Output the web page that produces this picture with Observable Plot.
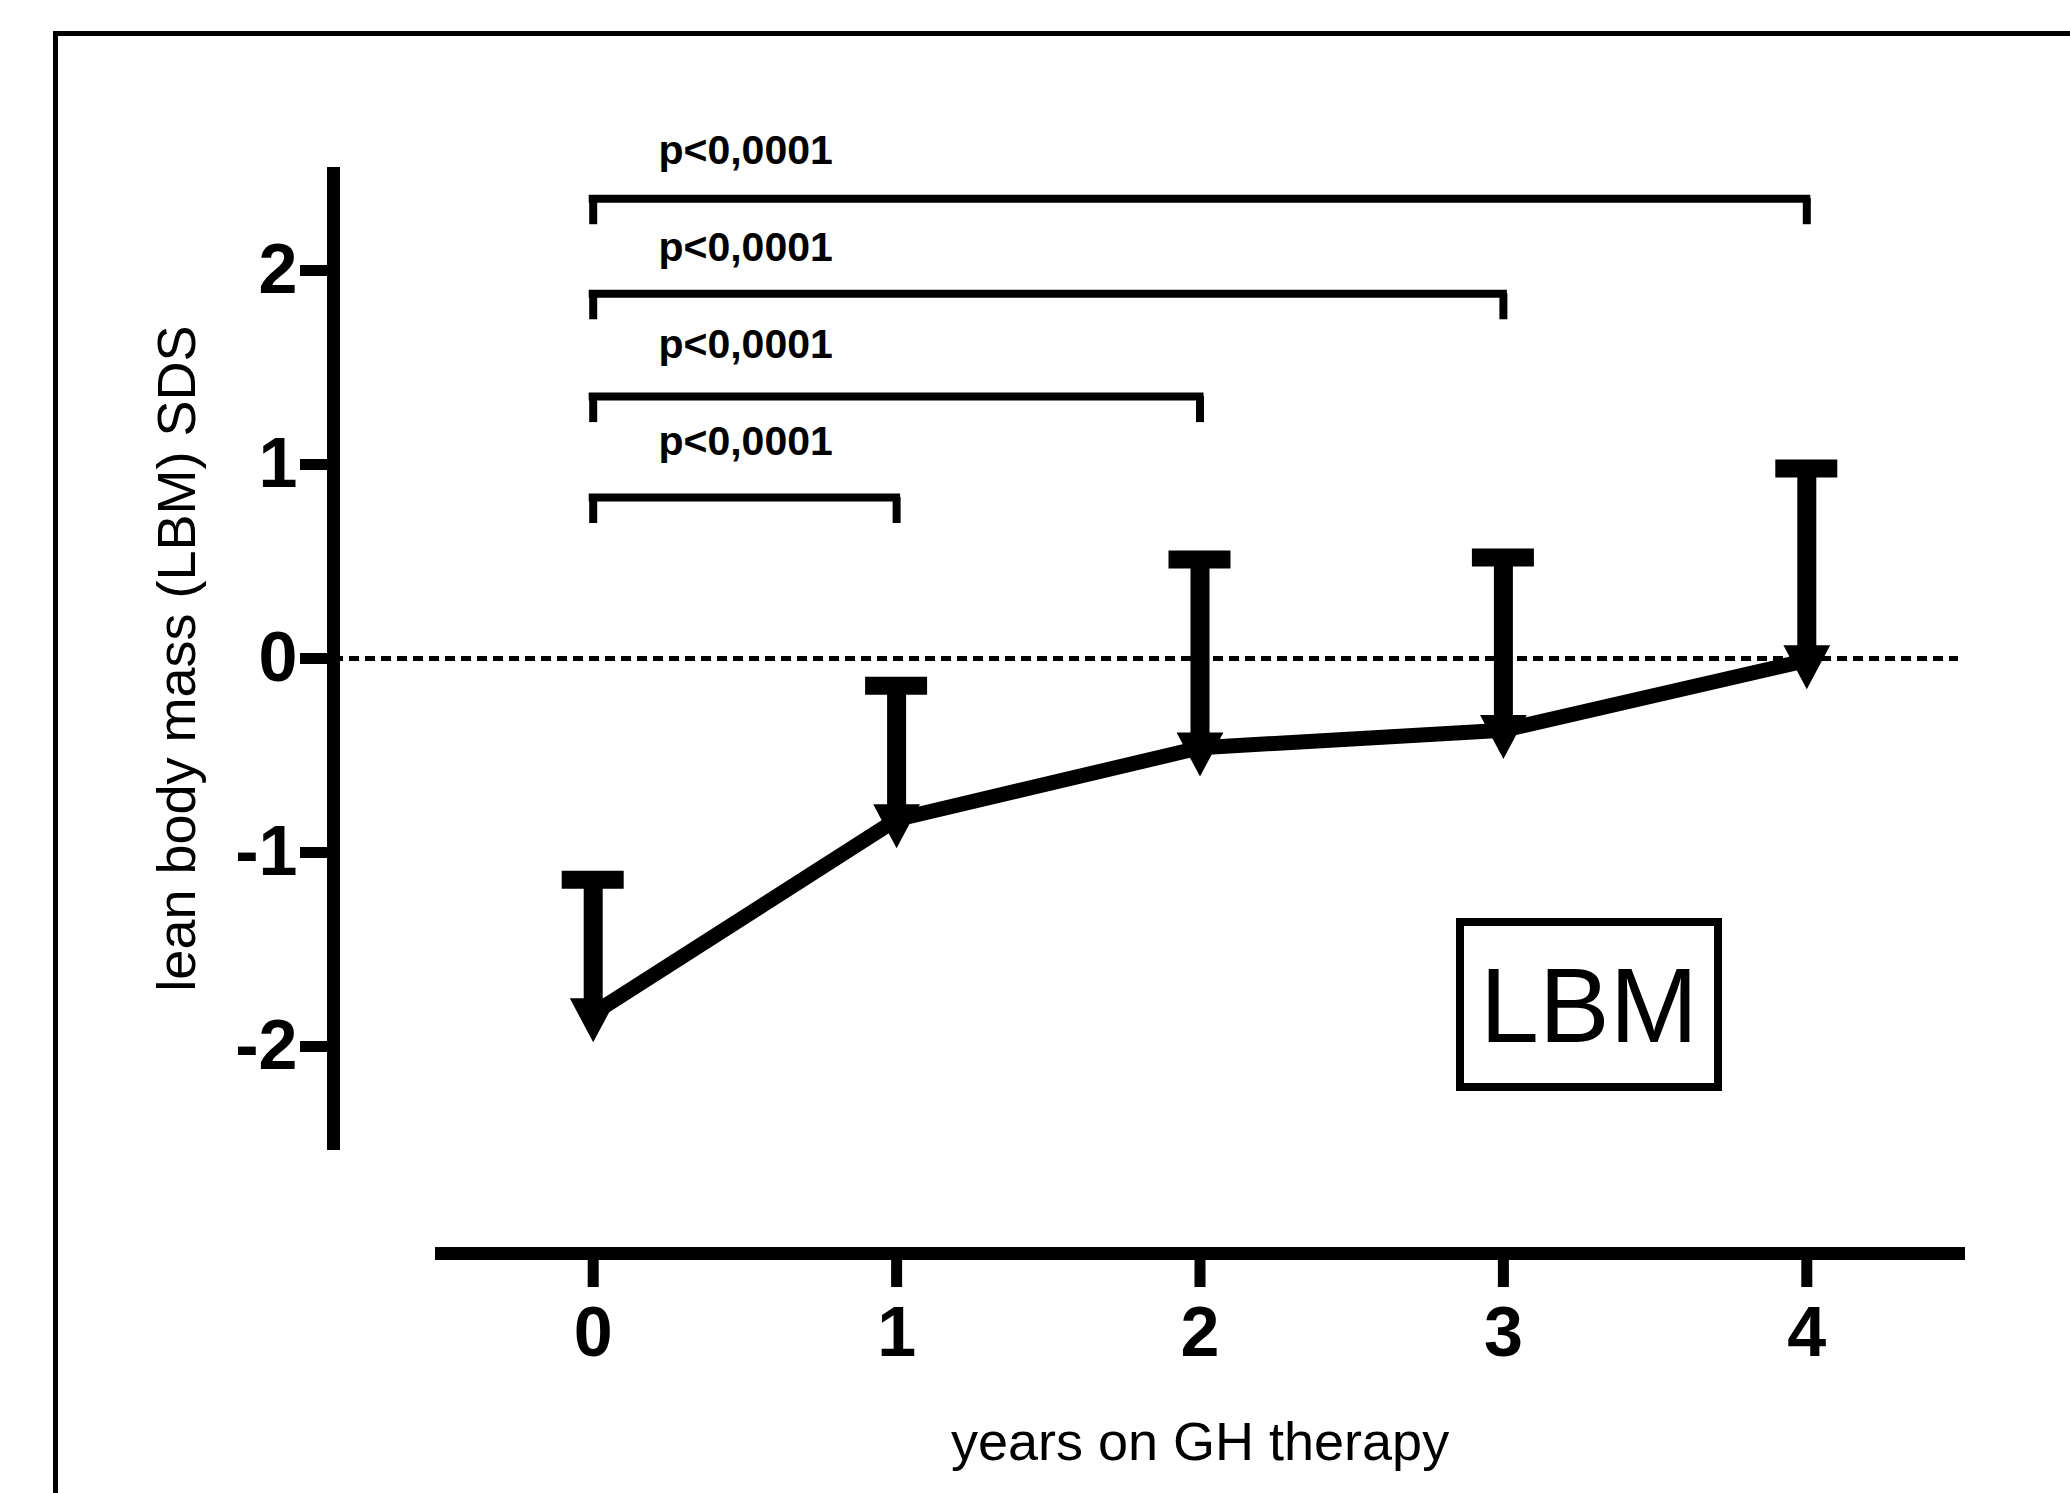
<!DOCTYPE html>
<html>
<head>
<meta charset="utf-8">
<script src="https://cdn.jsdelivr.net/npm/d3@7"></script>
<script src="https://cdn.jsdelivr.net/npm/@observablehq/plot@0.6"></script>
<style>
  html, body { margin: 0; padding: 0; background: #fff; overflow: hidden; }
  #wrap { position: relative; width: 2070px; height: 1493px; overflow: hidden; }
  #outer { position: absolute; left: 53px; top: 31px; width: 3000px; height: 3000px; border: 5px solid #000; }
  #chart { position: absolute; left: 0; top: 0; }
  #lbm { position: absolute; left: 1456px; top: 918px; width: 266px; height: 173px; box-sizing: border-box;
         border: 8px solid #000; font: 106px "Liberation Sans", Arial, sans-serif; color: #000;
         display: flex; align-items: center; justify-content: center; line-height: 1; }
</style>
</head>
<body>
<div id="wrap">
  <div id="outer"></div>
  <div id="chart"></div>
  <div id="lbm"></div>
</div>
<script>
// ---- data ----
const years = [0, 1, 2, 3, 4];
const meanSDS = [-1.83, -0.83, -0.46, -0.37, -0.01];
const upperSDS = [-1.14, -0.14, 0.51, 0.52, 0.98];
const xTicks = [0, 1, 2, 3, 4];
const yTicks = [-2, -1, 0, 1, 2];
const bracketFrom = [0, 0, 0, 0];
const bracketTo = [4, 3, 2, 1];
const bracketY = [2.37, 1.88, 1.35, 0.83];
const pLabelX = [0.215, 0.215, 0.215, 0.215];
const pLabelY = [2.55, 2.05, 1.55, 1.05];
const pLabels = ["p<0,0001", "p<0,0001", "p<0,0001", "p<0,0001"];
const xTitle = "years on GH therapy";
const yTitle = "lean body mass (LBM) SDS";
const boxLabel = "LBM";

// ---- build tables ----
const data = years.map((x, i) => ({x, mean: meanSDS[i], upper: upperSDS[i]}));
const brackets = bracketFrom.map((f, i) => ({from: f, to: bracketTo[i], y: bracketY[i], lx: pLabelX[i], ly: pLabelY[i], label: pLabels[i]}));
const bracketEnds = brackets.flatMap(b => [{x: b.from, y: b.y}, {x: b.to, y: b.y}]);

const triDown = {
  draw(ctx, size) {
    const r = Math.sqrt(size / Math.PI);
    ctx.moveTo(-1.3 * r, -0.85 * r);
    ctx.lineTo(1.3 * r, -0.85 * r);
    ctx.lineTo(0, 1.6 * r);
    ctx.closePath();
  }
};

const font = '"Liberation Sans", Arial, Helvetica, sans-serif';

const plot = Plot.plot({
  width: 2070,
  height: 1493,
  marginLeft: 333,
  marginRight: 112,
  marginTop: 173,
  marginBottom: 240,
  x: {domain: [-0.5, 4.5], insetLeft: 108},
  y: {domain: [-2.5, 2.5], insetBottom: 110},
  style: {fontFamily: font, background: "none", color: "#000", overflow: "visible"},
  marks: [
    Plot.frame({anchor: "left", insetBottom: 110, strokeWidth: 13}),
    Plot.frame({anchor: "bottom", insetLeft: 108, strokeWidth: 13}),
    Plot.axisY({ticks: yTicks, tickFormat: d => String(d), tickSize: 33, tickPadding: 3, strokeWidth: 11,
                fontSize: 70, fontWeight: "bold", label: null}),
    Plot.axisX({ticks: xTicks, tickFormat: d => String(d), tickSize: 34, tickPadding: 19, strokeWidth: 11,
                fontSize: 70, fontWeight: "bold", label: null}),
    Plot.ruleY([0], {strokeWidth: 5, strokeDasharray: "10,6"}),
    // significance brackets
    Plot.ruleY(brackets, {y: "y", x1: "from", x2: "to", strokeWidth: 8, strokeLinecap: "square"}),
    Plot.ruleX(bracketEnds, {x: "x", y1: "y", y2: "y", insetBottom: -26, strokeWidth: 8}),
    Plot.text(brackets, {x: "lx", y: "ly", text: "label", textAnchor: "start", lineAnchor: "bottom",
                         fontSize: 41, fontWeight: "bold"}),
    // error bars (upper only)
    Plot.ruleX(data, {x: "x", y1: "mean", y2: "upper", strokeWidth: 19}),
    Plot.ruleY(data, {y: "upper", x1: "x", x2: "x", insetLeft: -31, insetRight: -31, strokeWidth: 18}),
    // mean line + symbols
    Plot.line(data, {x: "x", y: "mean", strokeWidth: 15}),
    Plot.dot(data, {x: "x", y: "mean", symbol: triDown, r: 18, fill: "#000", stroke: "none"}),
    // axis titles
    Plot.text([{t: xTitle, x: 2}], {x: "x", text: "t", frameAnchor: "bottom", dy: 206, lineAnchor: "bottom", fontSize: 54}),
    Plot.text([{t: yTitle, y: 0}], {y: "y", text: "t", frameAnchor: "left", textAnchor: "middle", dx: -156, rotate: -90, fontSize: 54})
  ]
});

document.getElementById("chart").appendChild(plot);
document.getElementById("lbm").textContent = boxLabel;
</script>
</body>
</html>
